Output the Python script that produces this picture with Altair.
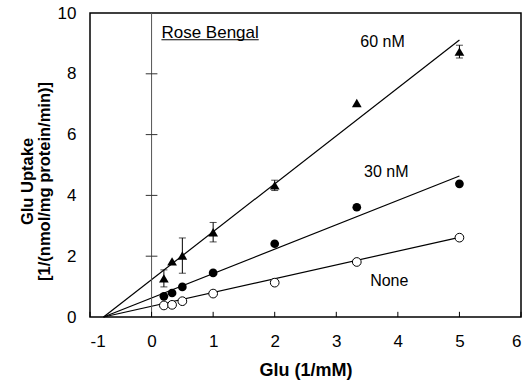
import altair as alt
import pandas as pd

# Data
glu_inv = [0.2, 0.333, 0.5, 1.0, 2.0, 3.333, 5.0]
uptake_none = [0.38, 0.40, 0.52, 0.77, 1.13, 1.81, 2.61]
uptake_30nM = [0.68, 0.79, 0.99, 1.45, 2.41, 3.61, 4.38]
uptake_60nM = [1.27, 1.83, 2.02, 2.79, 4.33, 7.04, 8.73]
err_60nM = [0.28, 0.0, 0.58, 0.32, 0.17, 0.0, 0.21]

fit_x = [-0.78, 5.0]
fit_none = [0.0, 2.62]
fit_30nM = [0.0, 4.64]
fit_60nM = [0.0, 9.11]

x_ticks = [-1, 0, 1, 2, 3, 4, 5, 6]
y_ticks = [0, 2, 4, 6, 8, 10]
inner_y_ticks = [2, 4, 6, 8]

FONT = "Liberation Sans"

pts = pd.DataFrame({"x": glu_inv, "none": uptake_none, "n30": uptake_30nM,
                    "n60": uptake_60nM, "err": err_60nM})
pts["lo"] = pts["n60"] - pts["err"]
pts["hi"] = pts["n60"] + pts["err"]
errs = pts[pts["err"] > 0]

fits = pd.DataFrame({"x": fit_x * 3,
                     "y": fit_none + fit_30nM + fit_60nM,
                     "s": ["None"] * 2 + ["30 nM"] * 2 + ["60 nM"] * 2})

one = pd.DataFrame({"k": [0]})

xs = alt.Scale(domain=[-1, 6], nice=False, zero=False)
ys = alt.Scale(domain=[0, 10], nice=False, zero=False)

x_axis = alt.Axis(values=x_ticks, tickSize=0, domain=False, grid=False,
                  labelExpr="'' + datum.value",
                  labelFontSize=17, labelPadding=16, labelFont=FONT, labelColor="black",
                  title="Glu (1/mM)", titleFont=FONT, titleFontSize=18,
                  titleFontWeight="bold", titleColor="black",
                  titleBaseline="alphabetic", titleY=58)
y_axis = alt.Axis(values=y_ticks, tickSize=0, domain=False, grid=False,
                  labelFontSize=17, labelPadding=14, labelFont=FONT, labelColor="black",
                  title=["Glu Uptake", "[1/(nmol/mg protein/min)]"],
                  titleFont=FONT, titleFontSize=16.5, titleFontWeight="bold",
                  titleColor="black", titleLineHeight=17.5,
                  titleBaseline="middle", titleX=-63, titleY=168)


def X(field):
    return alt.X(field, scale=xs, axis=x_axis)


def Y(field):
    return alt.Y(field, scale=ys, axis=y_axis)


def XD(v):
    return alt.datum(v, scale=xs, axis=x_axis)


def YD(v):
    return alt.datum(v, scale=ys, axis=y_axis)


lines = alt.Chart(fits).mark_line(color="black", strokeWidth=1.2).encode(
    x=X("x:Q"), y=Y("y:Q"), detail="s:N")

tick_df = pd.DataFrame({"t": x_ticks})
xticks_in = alt.Chart(tick_df).mark_rule(color="black", strokeWidth=1).encode(
    x=X("t:Q"), y=YD(0), y2=alt.datum(0.17))

zero_line = alt.Chart(one).mark_rule(color="#555555", strokeWidth=1).encode(
    x=XD(0), y=YD(0), y2=alt.datum(10))

ytick_df = pd.DataFrame({"t": inner_y_ticks})
yticks_in = alt.Chart(ytick_df).mark_rule(color="#333333", strokeWidth=1).encode(
    y=Y("t:Q"), x=XD(-0.095), x2=alt.datum(0.095))

err_rule = alt.Chart(errs).mark_rule(color="black", strokeWidth=1).encode(
    x=X("x:Q"), y=Y("lo:Q"), y2="hi:Q")
cap_lo = alt.Chart(errs).mark_tick(color="black", orient="horizontal", size=7, thickness=1).encode(
    x=X("x:Q"), y=Y("lo:Q"))
cap_hi = alt.Chart(errs).mark_tick(color="black", orient="horizontal", size=7, thickness=1).encode(
    x=X("x:Q"), y=Y("hi:Q"))

p_none = alt.Chart(pts).mark_point(shape="circle", filled=True, fill="white",
                                   stroke="black", strokeWidth=1, size=76, opacity=1).encode(
    x=X("x:Q"), y=Y("none:Q"))
p_30 = alt.Chart(pts).mark_point(shape="circle", filled=True, color="black", size=76, opacity=1).encode(
    x=X("x:Q"), y=Y("n30:Q"))
p_60 = alt.Chart(pts).mark_point(shape="triangle-up", filled=True, color="black", size=95, opacity=1).encode(
    x=X("x:Q"), y=Y("n60:Q"))


def label(text, x, y, size=16):
    return alt.Chart(one).mark_text(text=text, align="left", baseline="alphabetic",
                                    font=FONT, fontSize=size, fontWeight="normal",
                                    color="black").encode(
        x=XD(x), y=YD(y))


lab60 = label("60 nM", 3.39, 8.88)
lab30 = label("30 nM", 3.45, 4.59)
labnone = label("None", 3.55, 1.02)
labrb = label("Rose Bengal", 0.16, 9.19, 17)
underline = alt.Chart(one).mark_rule(color="black", strokeWidth=1).encode(
    x=XD(0.16), x2=alt.datum(1.74), y=YD(9.12))

chart = alt.layer(
    lines, zero_line, yticks_in, xticks_in, err_rule, cap_lo, cap_hi,
    p_none, p_30, p_60, lab60, lab30, labnone, labrb, underline
).properties(
    width=431, height=304,
    autosize=alt.AutoSizeParams(type="none"),
    padding={"left": 90, "top": 13, "right": 6, "bottom": 71},
    background="white",
).configure_view(stroke="black", strokeWidth=1.5)

chart.save("out.html", embed_options={"renderer": "svg", "actions": False})
